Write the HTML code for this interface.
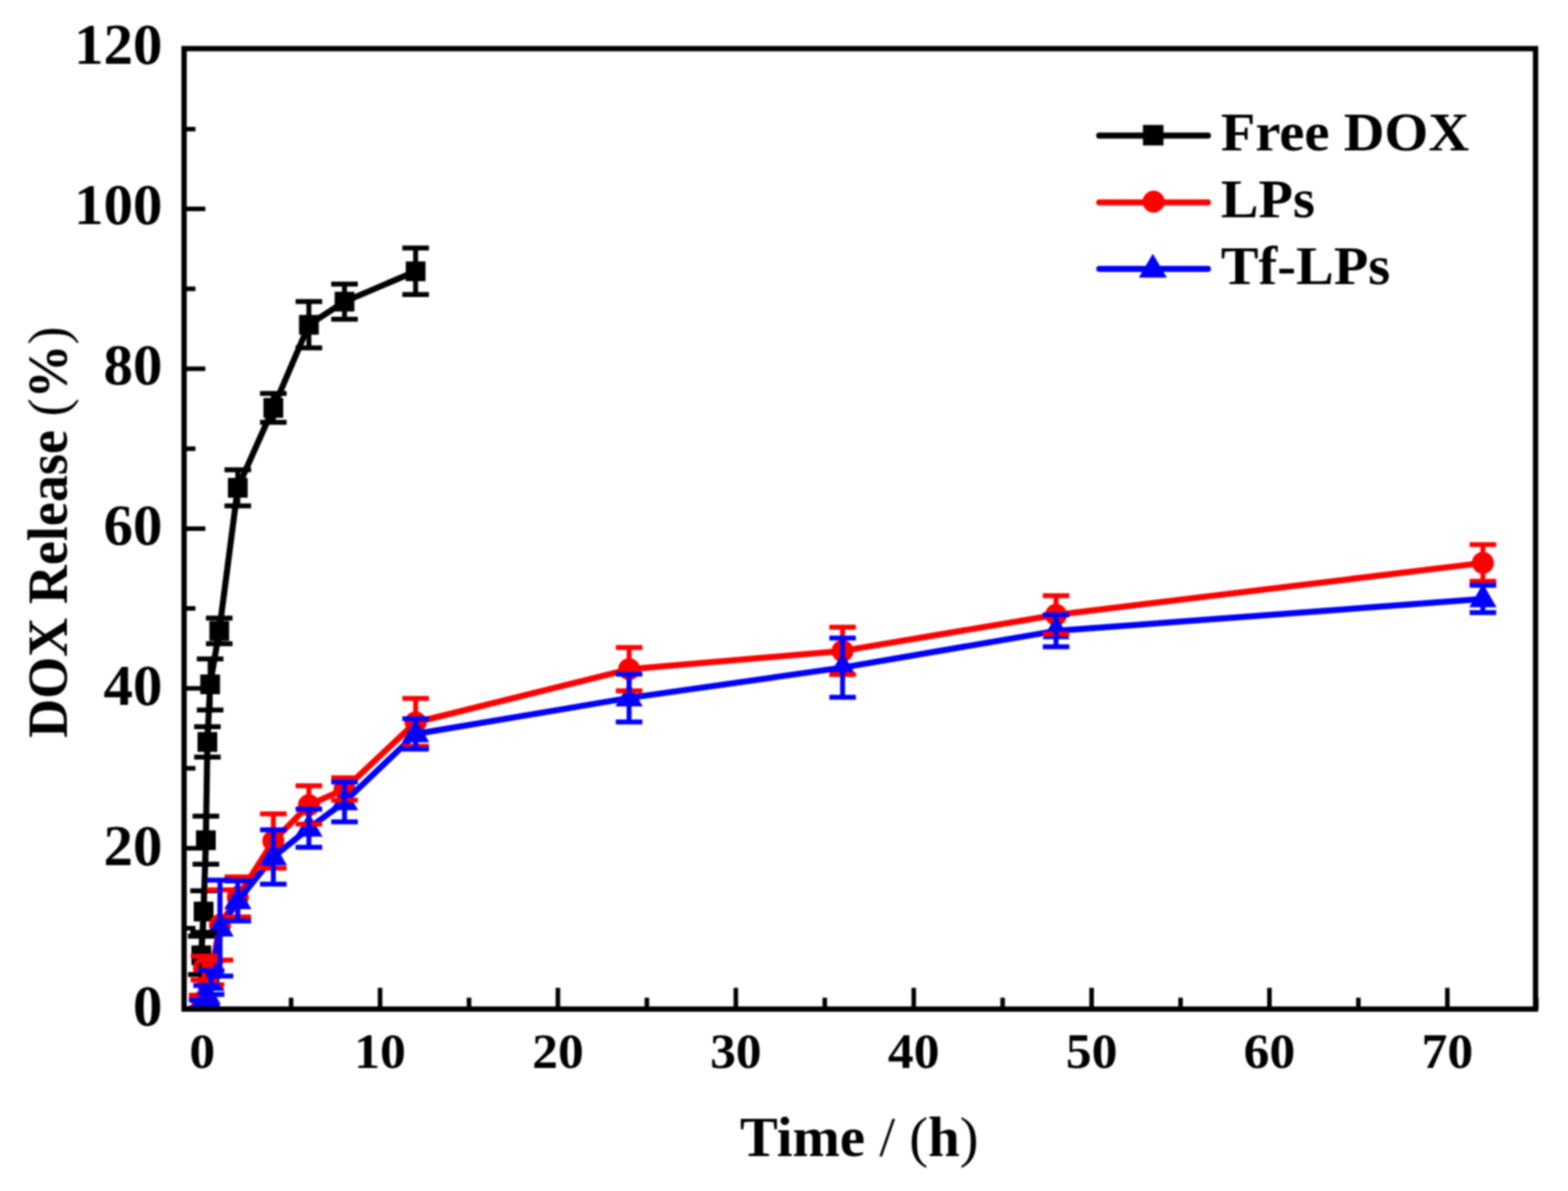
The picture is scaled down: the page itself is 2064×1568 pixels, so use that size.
<!DOCTYPE html>
<html><head><meta charset="utf-8"><title>DOX Release</title>
<style>html,body{margin:0;padding:0;background:#fff;width:2064px;height:1568px;overflow:hidden}
svg{display:block;filter:blur(0.8px)}
text{font-family:"Liberation Serif","Times New Roman",serif;font-weight:bold;fill:#000}</style></head>
<body>
<svg width="2064" height="1568" viewBox="0 0 2064 1568">
<rect width="2064" height="1568" fill="#fff"/>
<defs><clipPath id="cp"><rect x="242.3" y="64.0" width="1779.0" height="1264.5"/></clipPath></defs>
<path fill="none" stroke="#000" stroke-width="6" d="M242.3,1221.9H257.3M242.3,1116.7H270.3M242.3,1011.5H257.3M242.3,906.3H270.3M242.3,801.1H257.3M242.3,695.9H270.3M242.3,590.7H257.3M242.3,485.5H270.3M242.3,380.3H257.3M242.3,275.1H270.3M242.3,169.9H257.3M266.1,1328.5V1300.5M383.2,1328.5V1313.5M500.3,1328.5V1300.5M617.4,1328.5V1313.5M734.4,1328.5V1300.5M851.5,1328.5V1313.5M968.6,1328.5V1300.5M1085.7,1328.5V1313.5M1202.8,1328.5V1300.5M1319.8,1328.5V1313.5M1436.9,1328.5V1300.5M1554.0,1328.5V1313.5M1671.0,1328.5V1300.5M1788.1,1328.5V1313.5M1905.2,1328.5V1300.5M2022.3,1328.5V1313.5"/>
<g clip-path="url(#cp)">
<polyline fill="none" stroke="#000" stroke-width="8" stroke-linejoin="round" points="265.0,1257.7 268.0,1200.1 271.0,1106.2 273.0,976.8 276.6,901.0 288.6,830.6 313.0,642.2 359.8,537.0 406.6,427.6 453.5,397.1 547.1,357.2"/>
<rect x="252.0" y="1244.7" width="26" height="26" fill="#000"/>
<rect x="255.0" y="1187.1" width="26" height="26" fill="#000"/>
<rect x="258.0" y="1093.2" width="26" height="26" fill="#000"/>
<rect x="260.0" y="963.8" width="26" height="26" fill="#000"/>
<rect x="263.6" y="888.0" width="26" height="26" fill="#000"/>
<rect x="275.6" y="817.6" width="26" height="26" fill="#000"/>
<rect x="300.0" y="629.2" width="26" height="26" fill="#000"/>
<rect x="346.8" y="524.0" width="26" height="26" fill="#000"/>
<rect x="393.6" y="414.6" width="26" height="26" fill="#000"/>
<rect x="440.5" y="384.1" width="26" height="26" fill="#000"/>
<rect x="534.1" y="344.2" width="26" height="26" fill="#000"/>
<polyline fill="none" stroke="#f00" stroke-width="8" stroke-linejoin="round" points="266.1,1318.7 268.5,1274.5 277.9,1280.8 289.6,1217.7 313.0,1180.9 359.8,1107.2 406.6,1059.9 453.5,1038.9 547.1,951.0 828.1,881.1 1109.1,856.9 1390.1,809.5 1952.0,741.1"/>
<circle cx="266.1" cy="1318.7" r="14.5" fill="#f00"/>
<circle cx="268.5" cy="1274.5" r="14.5" fill="#f00"/>
<circle cx="277.9" cy="1280.8" r="14.5" fill="#f00"/>
<circle cx="289.6" cy="1217.7" r="14.5" fill="#f00"/>
<circle cx="313.0" cy="1180.9" r="14.5" fill="#f00"/>
<circle cx="359.8" cy="1107.2" r="14.5" fill="#f00"/>
<circle cx="406.6" cy="1059.9" r="14.5" fill="#f00"/>
<circle cx="453.5" cy="1038.9" r="14.5" fill="#f00"/>
<circle cx="547.1" cy="951.0" r="14.5" fill="#f00"/>
<circle cx="828.1" cy="881.1" r="14.5" fill="#f00"/>
<circle cx="1109.1" cy="856.9" r="14.5" fill="#f00"/>
<circle cx="1390.1" cy="809.5" r="14.5" fill="#f00"/>
<circle cx="1952.0" cy="741.1" r="14.5" fill="#f00"/>
<polyline fill="none" stroke="#00f" stroke-width="8" stroke-linejoin="round" points="266.1,1321.8 272.0,1310.3 277.9,1293.4 289.6,1221.9 313.0,1186.1 359.8,1128.3 406.6,1090.4 453.5,1055.7 547.1,966.3 828.1,918.9 1109.1,878.9 1390.1,830.6 1952.0,788.5"/>
<path d="M266.1,1301.8L284.1,1332.8L248.1,1332.8Z" fill="#00f"/>
<path d="M272.0,1290.3L290.0,1321.3L254.0,1321.3Z" fill="#00f"/>
<path d="M277.9,1273.4L295.9,1304.4L259.9,1304.4Z" fill="#00f"/>
<path d="M289.6,1201.9L307.6,1232.9L271.6,1232.9Z" fill="#00f"/>
<path d="M313.0,1166.1L331.0,1197.1L295.0,1197.1Z" fill="#00f"/>
<path d="M359.8,1108.3L377.8,1139.3L341.8,1139.3Z" fill="#00f"/>
<path d="M406.6,1070.4L424.6,1101.4L388.6,1101.4Z" fill="#00f"/>
<path d="M453.5,1035.7L471.5,1066.7L435.5,1066.7Z" fill="#00f"/>
<path d="M547.1,946.3L565.1,977.3L529.1,977.3Z" fill="#00f"/>
<path d="M828.1,898.9L846.1,929.9L810.1,929.9Z" fill="#00f"/>
<path d="M1109.1,858.9L1127.1,889.9L1091.1,889.9Z" fill="#00f"/>
<path d="M1390.1,810.6L1408.1,841.6L1372.1,841.6Z" fill="#00f"/>
<path d="M1952.0,768.5L1970.0,799.5L1934.0,799.5Z" fill="#00f"/>
<path fill="none" stroke="#000" stroke-width="6.5" d="M265.0,1232.4V1282.9M247.5,1232.4H282.5M247.5,1282.9H282.5M268.0,1172.8V1227.5M250.5,1172.8H285.5M250.5,1227.5H285.5M271.0,1074.6V1137.7M253.5,1074.6H288.5M253.5,1137.7H288.5M273.0,956.8V996.8M255.5,956.8H290.5M255.5,996.8H290.5M276.6,867.4V934.7M259.1,867.4H294.1M259.1,934.7H294.1M288.6,813.7V847.4M271.1,813.7H306.1M271.1,847.4H306.1M313.0,618.6V665.9M295.5,618.6H330.5M295.5,665.9H330.5M359.8,518.1V556.0M342.3,518.1H377.3M342.3,556.0H377.3M406.6,397.1V458.1M389.1,397.1H424.1M389.1,458.1H424.1M453.5,374.0V420.3M436.0,374.0H471.0M436.0,420.3H471.0M547.1,326.6V387.7M529.6,326.6H564.6M529.6,387.7H564.6"/>
<path fill="none" stroke="#f00" stroke-width="6.5" d="M266.1,1310.3V1327.1M248.6,1310.3H283.6M248.6,1327.1H283.6M268.5,1258.7V1290.3M251.0,1258.7H286.0M251.0,1290.3H286.0M277.9,1265.0V1296.6M260.4,1265.0H295.4M260.4,1296.6H295.4M289.6,1171.4V1264.0M272.1,1171.4H307.1M272.1,1264.0H307.1M313.0,1154.6V1207.2M295.5,1154.6H330.5M295.5,1207.2H330.5M359.8,1071.5V1143.0M342.3,1071.5H377.3M342.3,1143.0H377.3M406.6,1034.6V1085.1M389.1,1034.6H424.1M389.1,1085.1H424.1M453.5,1024.1V1053.6M436.0,1024.1H471.0M436.0,1053.6H471.0M547.1,919.5V982.6M529.6,919.5H564.6M529.6,982.6H564.6M828.1,852.6V909.5M810.6,852.6H845.6M810.6,909.5H845.6M1109.1,825.8V887.9M1091.6,825.8H1126.6M1091.6,887.9H1126.6M1390.1,784.3V834.8M1372.6,784.3H1407.6M1372.6,834.8H1407.6M1952.0,716.9V765.3M1934.5,716.9H1969.5M1934.5,765.3H1969.5"/>
<path fill="none" stroke="#00f" stroke-width="6.5" d="M266.1,1316.6V1327.1M248.6,1316.6H283.6M248.6,1327.1H283.6M272.0,1297.6V1322.9M254.5,1297.6H289.5M254.5,1322.9H289.5M277.9,1277.7V1309.2M260.4,1277.7H295.4M260.4,1309.2H295.4M289.6,1158.8V1285.0M272.1,1158.8H307.1M272.1,1285.0H307.1M313.0,1159.8V1212.4M295.5,1159.8H330.5M295.5,1212.4H330.5M359.8,1092.5V1164.0M342.3,1092.5H377.3M342.3,1164.0H377.3M406.6,1065.2V1115.6M389.1,1065.2H424.1M389.1,1115.6H424.1M453.5,1029.4V1082.0M436.0,1029.4H471.0M436.0,1082.0H471.0M547.1,946.3V986.3M529.6,946.3H564.6M529.6,986.3H564.6M828.1,887.4V950.5M810.6,887.4H845.6M810.6,950.5H845.6M1109.1,840.0V917.9M1091.6,840.0H1126.6M1091.6,917.9H1126.6M1390.1,809.5V851.6M1372.6,809.5H1407.6M1372.6,851.6H1407.6M1952.0,770.6V806.4M1934.5,770.6H1969.5M1934.5,806.4H1969.5"/>
</g>
<rect x="242.3" y="64.0" width="1779.0" height="1264.5" fill="none" stroke="#000" stroke-width="7"/>
<g font-size="75.5" text-anchor="end">
<text transform="translate(213.8,1349.7) scale(1.027,1)">0</text>
<text transform="translate(213.8,1138.8) scale(1.027,1)">20</text>
<text transform="translate(213.8,927.9) scale(1.027,1)">40</text>
<text transform="translate(213.8,717.0) scale(1.027,1)">60</text>
<text transform="translate(213.8,506.1) scale(1.027,1)">80</text>
<text transform="translate(213.8,295.2) scale(1.027,1)">100</text>
<text transform="translate(213.8,84.3) scale(1.027,1)">120</text>
</g>
<g font-size="64.5" text-anchor="middle">
<text transform="translate(266.1,1405.5) scale(1.053,1)">0</text>
<text transform="translate(500.3,1405.5) scale(1.053,1)">10</text>
<text transform="translate(734.4,1405.5) scale(1.053,1)">20</text>
<text transform="translate(968.6,1405.5) scale(1.053,1)">30</text>
<text transform="translate(1202.8,1405.5) scale(1.053,1)">40</text>
<text transform="translate(1436.9,1405.5) scale(1.053,1)">50</text>
<text transform="translate(1671.0,1405.5) scale(1.053,1)">60</text>
<text transform="translate(1905.2,1405.5) scale(1.053,1)">70</text>
</g>
<text font-size="71.2" transform="translate(87.8,971.5) rotate(-90) scale(1,1.05)">DOX Release <tspan font-weight="normal">(</tspan>%<tspan font-weight="normal">)</tspan></text>
<text font-size="73" transform="translate(974,1521.7) scale(1.024,1)">Time <tspan font-weight="normal">/ (</tspan>h<tspan font-weight="normal">)</tspan></text>
<g>
<line x1="1447" y1="178.5" x2="1590" stroke-linecap="round" y2="178.5" stroke="#000" stroke-width="8"/>
<rect x="1504.5" y="164.5" width="27.0" height="27.0" fill="#000"/>
<line x1="1447" y1="266.5" x2="1590" stroke-linecap="round" y2="266.5" stroke="#f00" stroke-width="8"/>
<circle cx="1518.5" cy="265.5" r="14.5" fill="#f00"/>
<line x1="1447" y1="354" x2="1590" stroke-linecap="round" y2="354" stroke="#00f" stroke-width="8"/>
<path d="M1517.5,334.0L1536.0,365.5L1499.0,365.5Z" fill="#00f"/>
<g font-size="71.5">
<text transform="translate(1607,198.1) scale(1.04,1)">Free DOX</text>
<text transform="translate(1607,285.5) scale(1.04,1)">LPs</text>
<text transform="translate(1607,373.8) scale(1.04,1)">Tf-LPs</text>
</g>
</g>
</svg>
</body></html>
